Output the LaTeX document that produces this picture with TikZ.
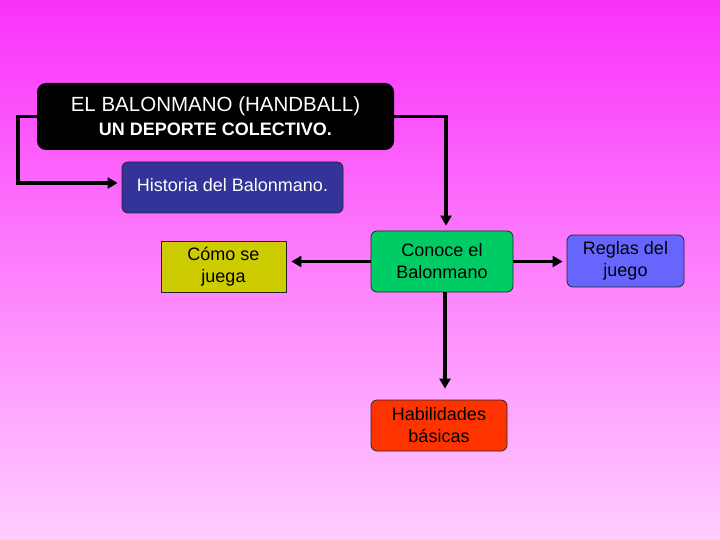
\documentclass[tikz,border=0pt]{standalone}
\usepackage{fontspec}
\setmainfont{Liberation Sans}
\usetikzlibrary{arrows.meta}
\definecolor{bgtop}{RGB}{250,50,250}
\definecolor{bgbot}{RGB}{255,205,255}
\definecolor{histc}{RGB}{51,51,153}
\definecolor{comoc}{RGB}{204,204,0}
\definecolor{conocec}{RGB}{0,204,102}
\definecolor{reglasc}{RGB}{102,102,255}
\definecolor{habilc}{RGB}{255,51,0}
\tikzset{
  box/.style={draw=black!85, line width=0.8pt, align=center, inner sep=0pt,
    font=\fontsize{18}{22}\selectfont},
  rbox/.style={box, rounded corners=6pt},
  conn/.style={line width=3.8pt, -{Triangle[length=10pt,width=11pt]}},
}
\begin{document}
\begin{tikzpicture}[x=1pt,y=-1pt]
\useasboundingbox (0,0) rectangle (720,540);
\shade[top color=bgtop, bottom color=bgbot] (0,0) rectangle (720,540);

\node[fill=black, rounded corners=9pt, minimum width=357pt, minimum height=67pt, inner sep=0pt,
  text=white, align=center, font=\fontsize{18}{24}\selectfont] (title) at (215.5,116.5)
  {{\fontsize{20.5}{24}\selectfont EL BALONMANO (HANDBALL)}\\
   {\bfseries UN DEPORTE COLECTIVO.}};

\node[rbox, fill=histc, text=white, minimum width=221pt, minimum height=51pt] (hist) at (232.5,187.5)
  {\raisebox{6pt}{Historia del Balonmano.}};

\node[box, fill=comoc, minimum width=125pt, minimum height=51pt] (como) at (223.5,266.5)
  {Cómo se\\juega};

\node[rbox, fill=conocec, minimum width=142pt, minimum height=61pt] (conoce) at (442,261.5)
  {Conoce el\\Balonmano};

\node[rbox, fill=reglasc, minimum width=117pt, minimum height=52pt] (reglas) at (625.5,261)
  {Reglas del\\juego};

\node[rbox, fill=habilc, minimum width=136pt, minimum height=51pt] (habil) at (439,425.5)
  {Habilidades\\básicas};

\draw[conn, shorten >=4pt] (title.west) -- ++(-19,0) |- ([yshift=4.5pt]hist.west);
\draw[conn, shorten >=5pt] (title.east) -| ([xshift=4pt]conoce.north);
\draw[conn, shorten >=5pt] (conoce.west) -- (conoce.west -| como.east);
\draw[conn, shorten >=4pt] (conoce.east) -- (conoce.east -| reglas.west);
\draw[conn, shorten >=11pt] ([xshift=3pt]conoce.south) -- ([xshift=3pt]conoce.south |- habil.north);
\end{tikzpicture}
\end{document}
